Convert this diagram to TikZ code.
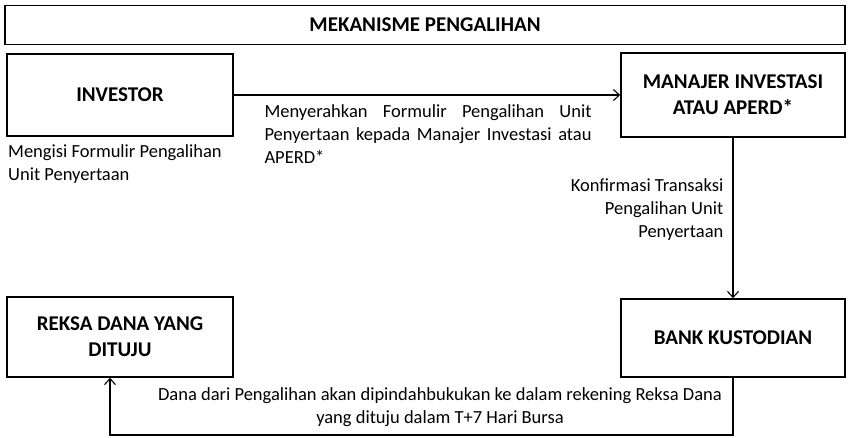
\documentclass[tikz,border=0pt]{standalone}
\usepackage{fontspec}
\setmainfont{Carlito}
\usepackage{tikz}
\usetikzlibrary{calc,arrows.meta}
\tikzset{box/.style={draw, line width=1.6pt, align=center, inner sep=0,
    font=\bfseries\fontsize{21}{26}\selectfont}}
\tikzset{note/.style={inner sep=0, font=\fontsize{18.5}{23}\selectfont}}
\tikzset{every edge/.style={draw, line width=1.4pt}}
\tikzset{>={Straight Barb[length=6pt, width=11pt, line width=1.1pt]}}

\begin{document}
\begin{tikzpicture}[x=1pt, y=-1pt]
  \useasboundingbox (0,0) rectangle (848,437);

  \node[box, minimum width=840pt, minimum height=39pt] at (425,25) (judul) {MEKANISME PENGALIHAN};

  \node[box, minimum width=226pt, minimum height=82pt] at (120,95) (investor) {INVESTOR};
  \node[box, minimum width=224pt, minimum height=84pt] at (733,95) (manajer) {MANAJER INVESTASI\\ATAU APERD*};
  \node[note, anchor=north west, align=left] at (8,144) (isi) {Mengisi Formulir Pengalihan\\Unit Penyertaan};

  % investor ke manajer
  \draw (investor) edge[->] node[note, below=9pt, text width=327pt, align=justify, xshift=1pt]
    {Menyerahkan Formulir Pengalihan Unit\linebreak Penyertaan kepada Manajer Investasi atau\linebreak APERD*} (manajer);

  % manajer ke bank
  \node[box, minimum width=224pt, minimum height=78pt] at (733,338) (bank) {BANK KUSTODIAN};
  \draw (manajer) edge[->] node[note, left=9pt, align=right, pos=0.45]
    {Konfirmasi Transaksi\\Pengalihan Unit\\Penyertaan} (bank);

  % bank ke reksa dana
  \node[box, minimum width=226pt, minimum height=80pt] at (120,337) (reksa) {REKSA DANA YANG\\DITUJU};
  \coordinate (belok) at (110,435);
  \draw[->, line width=1.4pt] (bank.south) |- (belok) -- (reksa.south -| belok);
  \node[note, align=center] at (440,407) (dana)
    {Dana dari Pengalihan akan dipindahbukukan ke dalam rekening Reksa Dana\\yang dituju dalam T+7 Hari Bursa};
\end{tikzpicture}
\end{document}
